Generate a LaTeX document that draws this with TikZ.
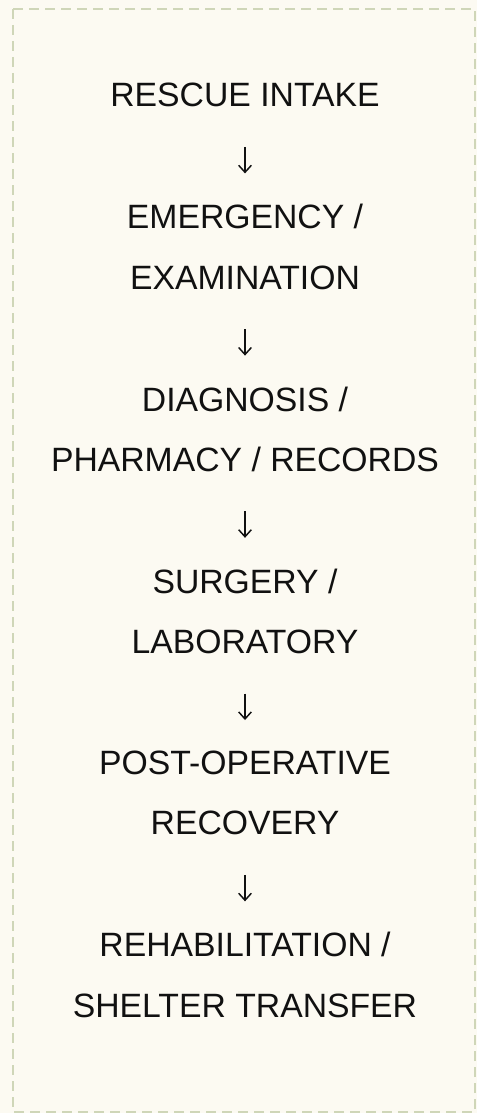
\documentclass[tikz,border=0pt]{standalone}
\usepackage{fontspec}
\setmainfont{Liberation Sans}
\usepackage{xcolor}
\usepackage{tikz}
\usetikzlibrary{
  arrows.meta,
  positioning
}
\definecolor{paper}{HTML}{FCFAF2}
\definecolor{frame}{HTML}{CFD6B8}
\definecolor{ink}{HTML}{111111}

\begin{document}
\begin{tikzpicture}[
    node distance=72.45pt,
    font=\fontsize{25.3pt}{45.225pt}\selectfont,
    stage/.style={
        align=center,
        inner sep=0pt,
        text=ink
    },
    arrow/.style={
        -{Straight Barb[length=5.25pt, width=9.5pt]},
        line width=1.1pt,
        draw=ink,
        shorten <=29.5pt,
        shorten >=23.1pt
    }
]

% ----------------------------------------------------------
% CANVAS
% ----------------------------------------------------------

\useasboundingbox (0,0) rectangle (357.75pt,-834.75pt);
\fill[paper] (0,0) rectangle (357.75pt,-834.75pt);
\draw[frame, line width=1.5pt, dash pattern=on 7.5pt off 4.5pt]
    (9.75pt,-6.75pt) rectangle (356.25pt,-834pt);

% ----------------------------------------------------------
% NODES
% ----------------------------------------------------------

\node[stage, anchor=base] (intake) at (183.75pt,-80.25pt) {RESCUE INTAKE};
\node[stage, below=of intake] (emergency) {EMERGENCY /\\EXAMINATION};
\node[stage, below=of emergency] (diagnosis) {DIAGNOSIS /\\PHARMACY / RECORDS};
\node[stage, below=of diagnosis] (surgery) {SURGERY /\\LABORATORY};
\node[stage, below=of surgery] (recovery) {POST-OPERATIVE\\RECOVERY};
\node[stage, below=of recovery] (transfer) {REHABILITATION /\\SHELTER TRANSFER};

% ----------------------------------------------------------
% ARROWS
% ----------------------------------------------------------

\draw[arrow] (intake) -- (emergency);
\draw[arrow] (emergency) -- (diagnosis);
\draw[arrow] (diagnosis) -- (surgery);
\draw[arrow] (surgery) -- (recovery);
\draw[arrow] (recovery) -- (transfer);

\end{tikzpicture}
\end{document}
